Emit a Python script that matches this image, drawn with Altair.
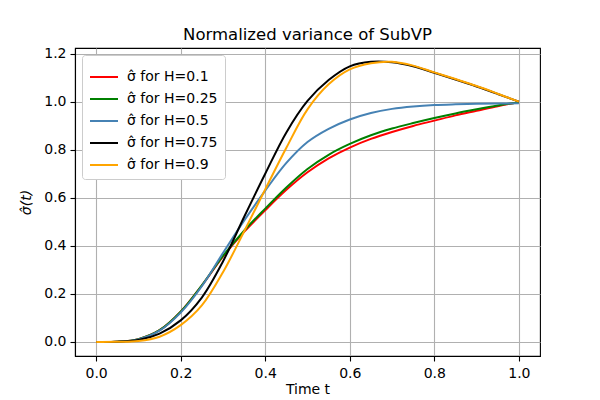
import altair as alt
import pandas as pd

t = [0, 0.05, 0.1, 0.15, 0.2, 0.25, 0.3, 0.35, 0.4, 0.45, 0.5,
     0.55, 0.6, 0.65, 0.7, 0.75, 0.8, 0.85, 0.9, 0.95, 1.0]

h01 = [0, 0.001, 0.012, 0.049, 0.126, 0.235, 0.355, 0.458, 0.548, 0.633, 0.706,
       0.764, 0.809, 0.845, 0.874, 0.899, 0.921, 0.943, 0.962, 0.981, 0.998]
h025 = [0, 0.001, 0.012, 0.049, 0.126, 0.236, 0.358, 0.463, 0.555, 0.643, 0.72,
        0.779, 0.824, 0.86, 0.888, 0.911, 0.932, 0.951, 0.968, 0.984, 0.998]
h05 = [0, 0.001, 0.011, 0.047, 0.122, 0.232, 0.37, 0.505, 0.63, 0.745, 0.832,
       0.887, 0.926, 0.953, 0.97, 0.98, 0.986, 0.989, 0.991, 0.992, 0.993]
h075 = [0, 0.001, 0.008, 0.035, 0.09, 0.185, 0.335, 0.52, 0.70, 0.872, 1.003,
        1.09, 1.147, 1.166, 1.164, 1.147, 1.12, 1.092, 1.063, 1.032, 1.0]
h09 = [0, 0.0005, 0.004, 0.022, 0.07, 0.152, 0.29, 0.46, 0.635, 0.808, 0.968,
       1.072, 1.134, 1.16, 1.166, 1.15, 1.122, 1.094, 1.065, 1.033, 1.0]

labels = ["σ̂ for H=0.1", "σ̂ for H=0.25", "σ̂ for H=0.5",
          "σ̂ for H=0.75", "σ̂ for H=0.9"]
colors = ["#ff0000", "#008000", "#4682b4", "#000000", "#ffa500"]
series = [h01, h025, h05, h075, h09]

x_ticks = [0.0, 0.2, 0.4, 0.6, 0.8, 1.0]
y_ticks = [0.0, 0.2, 0.4, 0.6, 0.8, 1.0, 1.2]

rows = []
for i, (lab, vals) in enumerate(zip(labels, series)):
    for tt, v in zip(t, vals):
        rows.append({"t": tt, "v": v, "series": lab, "k": i})
df = pd.DataFrame(rows)

FONT = "DejaVu Sans"

chart = alt.Chart(df).mark_line(strokeWidth=2, interpolate="catmull-rom").encode(
    x=alt.X("t:Q", title="Time t",
            scale=alt.Scale(domain=[-0.05, 1.05], nice=False, zero=False),
            axis=alt.Axis(values=x_ticks, format=".1f", titlePadding=2, labelPadding=5)),
    y=alt.Y("v:Q", title="σ̂(t)",
            scale=alt.Scale(domain=[-0.0583, 1.2233], nice=False, zero=False),
            axis=alt.Axis(values=y_ticks, format=".1f", titlePadding=10,
                          titleFontStyle="italic", labelPadding=4)),
    color=alt.Color("series:N",
                    scale=alt.Scale(domain=labels, range=colors),
                    sort=labels,
                    legend=alt.Legend(title=None, orient="none", legendX=7, legendY=7,
                                      symbolType="stroke", symbolSize=784,
                                      symbolStrokeWidth=2, labelFontSize=14,
                                      labelFont=FONT, fillColor="white",
                                      strokeColor="#cccccc", padding=7,
                                      rowPadding=-4, cornerRadius=3,
                                      labelLimit=300, labelOffset=8)),
    order=alt.Order("k:Q"),
    detail="k:N",
).properties(
    width=465, height=308,
    title=alt.TitleParams("Normalized variance of SubVP", fontSize=16.5,
                          font=FONT, fontWeight="normal", anchor="middle",
                          frame="group", offset=3, color="black"),
    autosize=alt.AutoSizeParams(type="none"),
    padding={"left": 67, "top": 40, "right": 52, "bottom": 42},
).configure_view(
    stroke="black", strokeWidth=1.1
).configure_axis(
    grid=True, gridColor="#b0b0b0", gridWidth=1.1,
    domainColor="black", domainWidth=1.1,
    tickColor="black", tickSize=5, tickWidth=1.1,
    labelFont=FONT, labelFontSize=14, labelColor="black",
    titleFont=FONT, titleFontSize=14, titleFontWeight="normal", titleColor="black",
    labelFlush=False,
)

chart.save("out.html", embed_options={"renderer": "svg", "actions": False})
